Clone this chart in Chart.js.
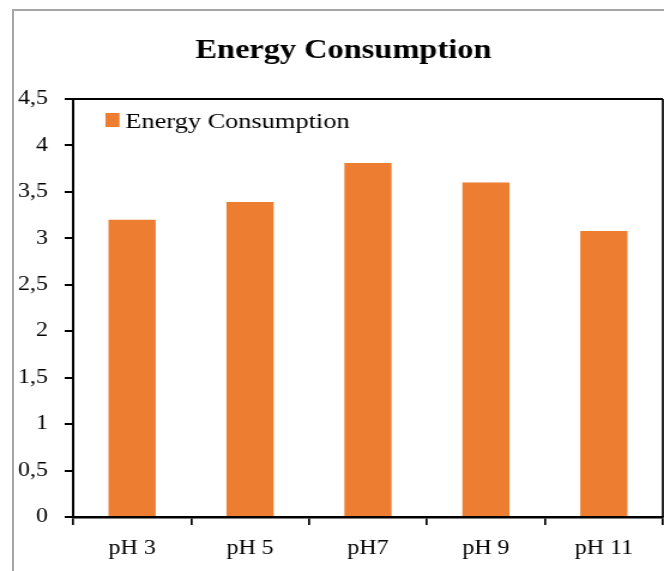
<!DOCTYPE html>
<html lang="en">
<head>
  <meta charset="UTF-8" />
  <title>Energy Consumption</title>
  <script src="https://cdn.jsdelivr.net/npm/chart.js"></script>
  <style>
    body {
      margin: 0;
      background: #fff;
      overflow: hidden;
    }
    .frame {
      position: absolute;
      left: 12px;
      top: 9px;
      width: 700px;
      height: 620px;
      border-left: 2px solid #a6a6a6;
      border-top: 2px solid #a6a6a6;
    }
    #chart {
      position: absolute;
      left: 0;
      top: 0;
      transform: scaleX(1.1986);
      transform-origin: 0 0;
    }
  </style>
</head>
<body>
  <div class="frame"></div>
  <canvas id="chart" width="554" height="571" style="width:554px;height:571px"></canvas>

  <script>
    const categories = ["pH 3", "pH 5", "pH7", "pH 9", "pH 11"];
    const energyValues = [3.2, 3.39, 3.81, 3.6, 3.08];
    const yTickValues = [0, 0.5, 1, 1.5, 2, 2.5, 3, 3.5, 4, 4.5];
    const yTickLabels = ["0", "0,5", "1", "1,5", "2", "2,5", "3", "3,5", "4", "4,5"];

    const serif = "'Liberation Serif', 'Times New Roman', serif";

    // box round the plot + legend drawn inside the plot area
    const plotBox = {
      id: "plotBox",
      afterLayout(chart) {
        // centre the title over the framed region, not the whole canvas
        if (chart.titleBlock) chart.titleBlock.left = 20;
      },
      afterDraw(chart) {
        const { ctx, chartArea: a } = chart;
        ctx.save();
        ctx.strokeStyle = "#000";
        ctx.lineWidth = 2;
        ctx.beginPath();
        ctx.moveTo(a.left, a.top);
        ctx.lineTo(a.right, a.top);
        ctx.stroke();
        ctx.lineWidth = 1.7;
        ctx.beginPath();
        ctx.moveTo(a.right, a.top);
        ctx.lineTo(a.right, a.bottom);
        ctx.stroke();

        const ds = chart.data.datasets[0];
        ctx.fillStyle = ds.backgroundColor;
        ctx.fillRect(a.left + 27, a.top + 14, 11.7, 14);
        ctx.fillStyle = "#000";
        ctx.font = "22px " + serif;
        ctx.textBaseline = "alphabetic";
        ctx.textAlign = "left";
        ctx.fillText(ds.label, a.left + 43.5, a.top + 28.5);
        ctx.restore();
      }
    };

    new Chart(document.getElementById("chart"), {
      type: "bar",
      data: {
        labels: categories,
        datasets: [{
          label: "Energy Consumption",
          data: energyValues,
          backgroundColor: "#ED7D31",
          borderWidth: 0,
          barPercentage: 0.4,
          categoryPercentage: 1
        }]
      },
      options: {
        responsive: false,
        animation: false,
        devicePixelRatio: 1,
        layout: { padding: { left: 0, right: 1, top: 0, bottom: 0 } },
        plugins: {
          legend: { display: false },
          tooltip: { enabled: false },
          title: {
            display: true,
            text: "Energy Consumption",
            color: "#000",
            font: { family: serif, size: 27, weight: "bold", lineHeight: 1.2 },
            padding: { top: 35, bottom: 31.6 }
          }
        },
        scales: {
          x: {
            grid: {
              offset: true,
              drawOnChartArea: false,
              drawTicks: true,
              tickLength: 8,
              color: "#000",
              lineWidth: 1.7
            },
            border: { display: true, color: "#000", width: 2.5 },
            ticks: {
              color: "#000",
              padding: 12,
              font: { family: serif, size: 20 }
            },
            afterFit(scale) { scale.height = 54; }
          },
          y: {
            min: 0,
            max: 4.5,
            grid: {
              drawOnChartArea: false,
              drawTicks: true,
              tickLength: 7,
              color: "#000",
              lineWidth: 2
            },
            border: { display: true, color: "#000", width: 2 },
            afterBuildTicks(scale) {
              scale.ticks = yTickValues.map(v => ({ value: v }));
            },
            ticks: {
              color: "#000",
              padding: 14,
              font: { family: serif, size: 20 },
              callback: (value) => yTickLabels[yTickValues.indexOf(value)]
            },
            afterFit(scale) { scale.width = 61; }
          }
        }
      },
      plugins: [plotBox]
    });
  </script>
</body>
</html>
